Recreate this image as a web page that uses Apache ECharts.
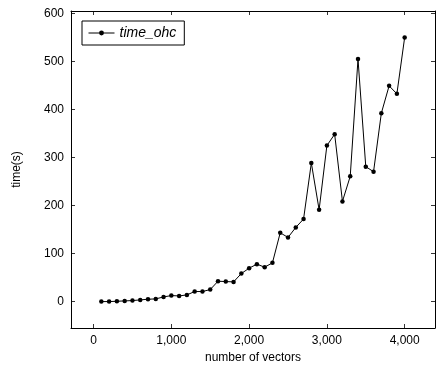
<!DOCTYPE html>
<html>
<head>
<meta charset="utf-8">
<script src="https://cdn.jsdelivr.net/npm/echarts@6/dist/echarts.min.js"></script>
<style>
  html, body { margin: 0; padding: 0; background: #fff; }
  #chart { width: 437px; height: 370px; }
</style>
</head>
<body>
<div id="chart"></div>
<script>
// number of vectors
const vectors = [
  100, 200, 300, 400, 500, 600, 700, 800, 900, 1000,
  1100, 1200, 1300, 1400, 1500, 1600, 1700, 1800, 1900, 2000,
  2100, 2200, 2300, 2400, 2500, 2600, 2700, 2800, 2900, 3000,
  3100, 3200, 3300, 3400, 3500, 3600, 3700, 3800, 3900, 4000
];
// time(s)
const timeOhc = [
  0, 0, 0.7, 1.4, 2.1, 3.5, 4.9, 5.6, 9.7, 12.5,
  11.8, 13.9, 20.9, 20.9, 25, 42.4, 41.7, 41, 58.4, 69.5,
  77.9, 71.6, 80.7, 143.3, 133.5, 154.4, 171.8, 288.6, 191.2, 324.8,
  348.4, 208.6, 260.8, 504.9, 280.9, 270.5, 392.2, 449.2, 432.5, 550
];
const xTicks = [0, 1000, 2000, 3000, 4000];
const yTicks = [0, 100, 200, 300, 400, 500, 600];

const font = 'Liberation Sans';
const fmt = (v) => Number(v).toLocaleString('en-US');

const chart = echarts.init(document.getElementById('chart'));

const tickCommon = { show: true, inside: true, length: 4, lineStyle: { color: '#000', width: 0.8 } };
const frameLine = { show: true, onZero: false, lineStyle: { color: '#000', width: 1 } };

chart.setOption({
  animation: false,
  backgroundColor: '#fff',
  textStyle: { fontFamily: font, color: '#000' },
  grid: { left: 71, right: 2, top: 11, bottom: 42 },
  legend: {
    left: 82,
    top: 21,
    orient: 'vertical',
    data: ['time_ohc'],
    itemWidth: 26,
    itemHeight: 6,
    itemGap: 0,
    padding: [5, 8, 5, 6],
    borderColor: '#000',
    borderWidth: 1,
    borderRadius: 0,
    lineStyle: { width: 1 },
    textStyle: { fontFamily: font, fontStyle: 'italic', fontSize: 14, color: '#000' }
  },
  xAxis: [
    {
      type: 'value',
      min: -290,
      max: 4390,
      name: 'number of vectors',
      nameLocation: 'middle',
      nameGap: 21,
      nameTextStyle: { fontFamily: font, fontSize: 12, color: '#000' },
      axisLine: frameLine,
      axisTick: Object.assign({ customValues: xTicks }, tickCommon),
      axisLabel: { customValues: xTicks, formatter: fmt, fontFamily: font, fontSize: 12, color: '#000', margin: 7 },
      splitLine: { show: false }
    },
    {
      type: 'value',
      position: 'top',
      min: -290,
      max: 4390,
      axisLine: frameLine,
      axisTick: Object.assign({ customValues: xTicks }, tickCommon),
      axisLabel: { show: false },
      splitLine: { show: false }
    }
  ],
  yAxis: [
    {
      type: 'value',
      min: -55,
      max: 605,
      name: 'time(s)',
      nameLocation: 'middle',
      nameGap: 48,
      nameTextStyle: { fontFamily: font, fontSize: 12, color: '#000' },
      axisLine: frameLine,
      axisTick: Object.assign({ customValues: yTicks }, tickCommon),
      axisLabel: { customValues: yTicks, fontFamily: font, fontSize: 12, color: '#000', margin: 7 },
      splitLine: { show: false }
    },
    {
      type: 'value',
      position: 'right',
      min: -55,
      max: 605,
      axisLine: frameLine,
      axisTick: Object.assign({ customValues: yTicks }, tickCommon),
      axisLabel: { show: false },
      splitLine: { show: false }
    }
  ],
  series: [
    {
      name: 'time_ohc',
      type: 'line',
      data: vectors.map((x, i) => [x, timeOhc[i]]),
      symbol: 'circle',
      symbolSize: 4.5,
      itemStyle: { color: '#000' },
      lineStyle: { color: '#000', width: 1 }
    }
  ]
});
</script>
</body>
</html>
